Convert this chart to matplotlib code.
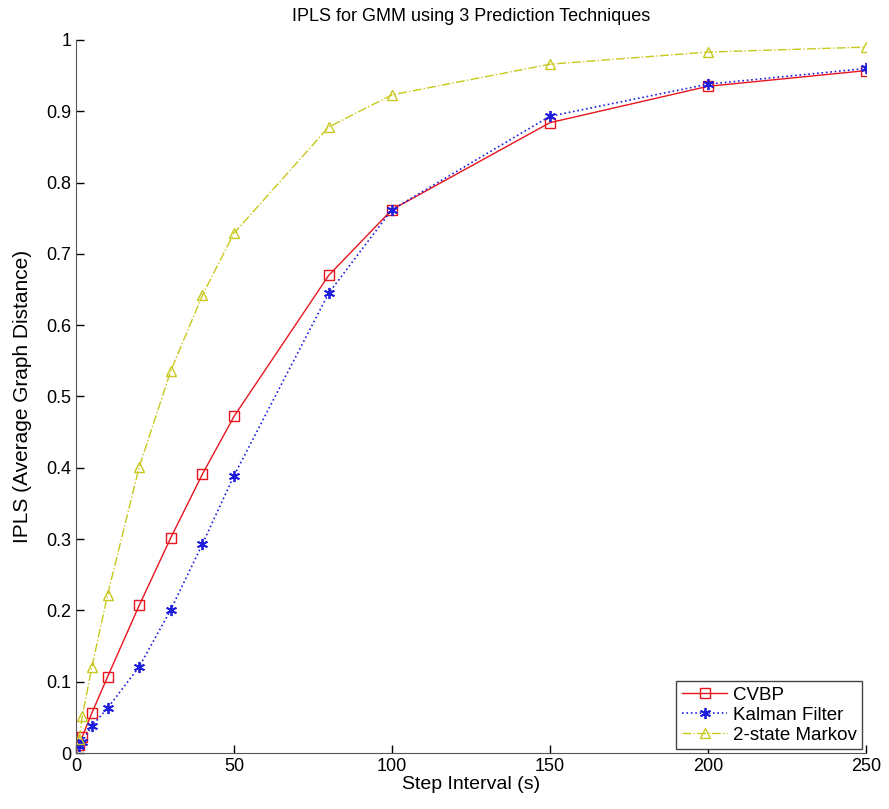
import matplotlib
matplotlib.use("Agg")
import matplotlib.pyplot as plt

plt.rcParams['font.family'] = ['Liberation Sans', 'DejaVu Sans']

# step intervals (s)
steps = [1, 2, 5, 10, 20, 30, 40, 50, 80, 100, 150, 200, 250]

cvbp = [0.011, 0.023, 0.056, 0.107, 0.207, 0.302, 0.391, 0.472, 0.670, 0.762, 0.884, 0.935, 0.957]
kalman = [0.010, 0.016, 0.038, 0.063, 0.121, 0.201, 0.293, 0.389, 0.645, 0.762, 0.893, 0.938, 0.960]
markov = [0.020, 0.052, 0.120, 0.222, 0.401, 0.536, 0.642, 0.729, 0.878, 0.923, 0.966, 0.983, 0.990]

xticks = [0, 50, 100, 150, 200, 250]
yticks = [0, 0.1, 0.2, 0.3, 0.4, 0.5, 0.6, 0.7, 0.8, 0.9, 1]
ylabels = ['0', '0.1', '0.2', '0.3', '0.4', '0.5', '0.6', '0.7', '0.8', '0.9', '1']

fig = plt.figure(figsize=(8.89, 8.09), dpi=100)
ax = fig.add_axes([0.0855, 0.0692, 0.8885, 0.8814])

ax.plot(steps, cvbp, '-', color='#e8141e', lw=1.0, marker='s', ms=7,
        mfc='none', mec='#e8141e', mew=1.0, label='CVBP')
# matlab style asterisk marker
ax.plot(steps, kalman, ':', color='#1e1edc', lw=1.2, marker=(6, 2, 0), ms=8,
        mec='#1e1edc', mew=1.3, label='Kalman Filter')
ax.plot(steps, markov, '-.', color='#c8c81e', lw=1.0, marker='^', ms=7.5,
        mfc='none', mec='#c8c81e', mew=1.0, label='2-state Markov')

ax.set_xlim(0, 250)
ax.set_ylim(0, 1)
ax.set_xticks(xticks)
ax.set_yticks(yticks)
ax.set_yticklabels(ylabels)
ax.tick_params(direction='in', length=6, width=1, labelsize=13, colors='black')
ax.spines['top'].set_visible(False)
ax.spines['right'].set_visible(False)
ax.spines['left'].set_color('#555555')
ax.spines['bottom'].set_color('#555555')

ax.set_title('IPLS for GMM using 3 Prediction Techniques', fontsize=13, pad=14)
ax.set_xlabel('Step Interval (s)', fontsize=14, labelpad=1)
ax.set_ylabel('IPLS (Average Graph Distance)', fontsize=15, labelpad=10)

leg = ax.legend(loc='lower right', fontsize=13.5, fancybox=False, framealpha=1,
                edgecolor='#444444', handlelength=2.4, handletextpad=0.3,
                borderpad=0.3, labelspacing=0.15, borderaxespad=0.2)
leg.get_frame().set_linewidth(1.0)

fig.savefig('out.png', dpi=100)
